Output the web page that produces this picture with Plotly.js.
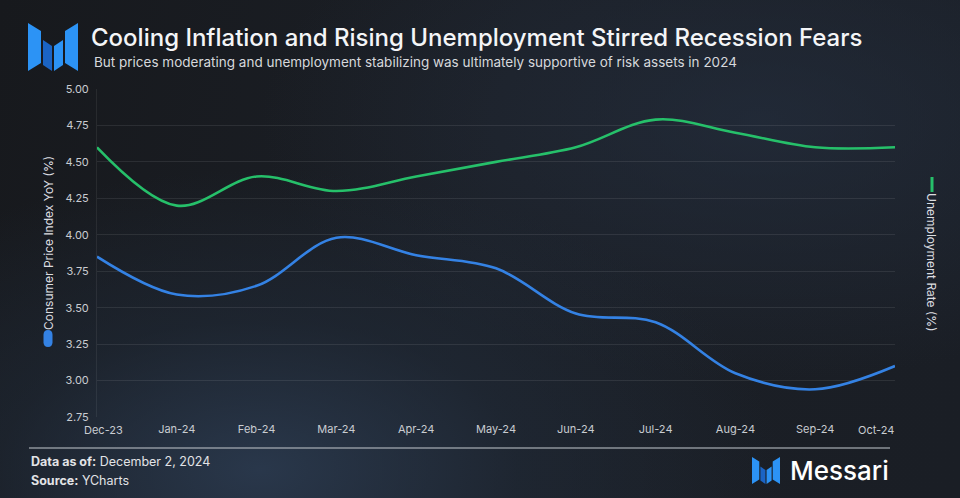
<!DOCTYPE html>
<html><head><meta charset="utf-8">
<script src="https://cdn.plot.ly/plotly-3.0.1.min.js"></script>
<style>
html,body{margin:0;padding:0;width:960px;height:498px;overflow:hidden;background:#181b20;}
#wrap{position:relative;width:960px;height:498px;
 background:
  radial-gradient(ellipse 520px 300px at 260px 470px, rgba(44,60,82,0.85) 0%, rgba(34,46,62,0.45) 50%, rgba(0,0,0,0) 100%),
  radial-gradient(ellipse 500px 260px at 760px 120px, rgba(36,46,62,0.7) 0%, rgba(0,0,0,0) 100%),
  linear-gradient(100deg, #17191d 0%, #1b1f26 50%, #1a1e25 100%);}
#chart{position:absolute;left:0;top:0;width:960px;height:498px;}
.logo{position:absolute;}
</style></head><body>
<div id="wrap">
<div id="chart"></div>
<svg class="logo" style="left:28px;top:23px" width="50" height="48" viewBox="0 0 50 48">
 <polygon points="0,0 13,8 13,40 0,48" fill="#2c93f5"/>
 <polygon points="15,17 24,23 24,48 15,42" fill="#1b64c4"/>
 <polygon points="26,23 35,17 35,42 26,48" fill="#2c93f5"/>
 <polygon points="37,8 50,0 50,48 37,40" fill="#2c93f5"/>
</svg>
<svg class="logo" style="left:752px;top:457px" width="28" height="27" viewBox="0 0 50 48">
 <polygon points="0,0 13,8 13,40 0,48" fill="#2c93f5"/>
 <polygon points="15,17 24,23 24,48 15,42" fill="#1b64c4"/>
 <polygon points="26,23 35,17 35,42 26,48" fill="#2c93f5"/>
 <polygon points="37,8 50,0 50,48 37,40" fill="#2c93f5"/>
</svg>
</div>
<script>
const months = ["Dec-23","Jan-24","Feb-24","Mar-24","Apr-24","May-24","Jun-24","Jul-24","Aug-24","Sep-24","Oct-24"];
const cpi = [3.85, 3.59, 3.65, 3.98, 3.86, 3.77, 3.46, 3.40, 3.05, 2.94, 3.10];
const unemployment = [4.60, 4.20, 4.40, 4.30, 4.40, 4.50, 4.60, 4.79, 4.70, 4.60, 4.60];
const yTicks = [2.75, 3.00, 3.25, 3.50, 3.75, 4.00, 4.25, 4.50, 4.75, 5.00];

const cpiName = "Consumer Price Index YoY (%)";
const unempName = "Unemployment Rate (%)";
const titleText = "Cooling Inflation and Rising Unemployment Stirred Recession Fears";
const subtitleText = "But prices moderating and unemployment stabilizing was ultimately supportive of risk assets in 2024";

const W = 960, H = 498, L = 97, R = 895, T = 89, B = 417;
const X = px => (px - L) / (R - L);
const Y = py => (B - py) / (B - T);

const FONT = "Inter, 'Liberation Sans', Arial, sans-serif";
const tickCol = "#c9ccd1";

const traces = [
 {x: months, y: unemployment, name: unempName, type: "scatter", mode: "lines",
  line: {color: "#26c06a", width: 2.6, shape: "spline", smoothing: 1}},
 {x: months, y: cpi, name: cpiName, type: "scatter", mode: "lines",
  line: {color: "#3482e4", width: 2.6, shape: "spline", smoothing: 1}}
];

const annotations = [
 {text: subtitleText, xref: "paper", yref: "paper", x: X(92), y: Y(62), xanchor: "left", yanchor: "middle",
  showarrow: false, font: {family: FONT, size: 13.5, color: "#d6d8dc"}},
 {text: cpiName, xref: "paper", yref: "paper", x: X(48), y: Y(243), xanchor: "center", yanchor: "middle",
  textangle: -90, showarrow: false, font: {family: FONT, size: 12, color: "#dcdde0"}},
 {text: unempName, xref: "paper", yref: "paper", x: X(932), y: Y(262), xanchor: "center", yanchor: "middle",
  textangle: 90, showarrow: false, font: {family: FONT, size: 12, color: "#dcdde0"}},
 {text: months[0], xref: "x", yref: "paper", x: months[0], y: 0, xshift: 6, yshift: -4,
  xanchor: "center", yanchor: "top", showarrow: false, font: {family: FONT, size: 11, color: tickCol}},
 {text: months[months.length-1], xref: "x", yref: "paper", x: months[months.length-1], y: 0, xshift: -19, yshift: -4,
  xanchor: "center", yanchor: "top", showarrow: false, font: {family: FONT, size: 11, color: tickCol}},
 {text: "<b>Data as of:</b> December 2, 2024", xref: "paper", yref: "paper", x: X(29), y: Y(461),
  xanchor: "left", yanchor: "middle", showarrow: false, font: {family: FONT, size: 12.5, color: "#e2e3e6"}},
 {text: "<b>Source:</b> YCharts", xref: "paper", yref: "paper", x: X(29), y: Y(480),
  xanchor: "left", yanchor: "middle", showarrow: false, font: {family: FONT, size: 12.5, color: "#e2e3e6"}},
 {text: "Messari", xref: "paper", yref: "paper", x: X(788), y: Y(470),
  xanchor: "left", yanchor: "middle", showarrow: false, font: {family: FONT, size: 26, color: "#ffffff", weight: 500}}
];

const px0 = X(43.5), px1 = X(52.5), py0 = Y(330), py1 = Y(347);
const ry = (py0 - py1) * 0.28;
const pill = `M ${px0},${py0 - ry} Q ${px0},${py0} ${(px0+px1)/2},${py0} Q ${px1},${py0} ${px1},${py0 - ry} L ${px1},${py1 + ry} Q ${px1},${py1} ${(px0+px1)/2},${py1} Q ${px0},${py1} ${px0},${py1 + ry} Z`;

const shapes = [
 {type: "path", xref: "paper", yref: "paper", path: pill, fillcolor: "#3482e4", line: {width: 0}},
 {type: "line", xref: "paper", yref: "paper", x0: X(932), x1: X(932), y0: Y(177), y1: Y(192),
  line: {color: "#26c06a", width: 3}},
 {type: "line", xref: "paper", yref: "paper", x0: X(29), x1: X(890), y0: Y(448), y1: Y(448),
  line: {color: "rgba(190,194,200,0.7)", width: 1.5}}
];

const layout = {
 width: W, height: H,
 margin: {l: L, r: W - R, t: T, b: H - B, pad: 0},
 paper_bgcolor: "rgba(0,0,0,0)", plot_bgcolor: "rgba(0,0,0,0)",
 showlegend: false,
 font: {family: FONT, color: tickCol},
 title: {text: titleText, x: 91 / W, xanchor: "left", xref: "container",
  y: 1 - 38 / H, yref: "container", yanchor: "middle",
  font: {family: FONT, size: 24, color: "#f4f5f7", weight: 500}},
 xaxis: {type: "category", range: [0, months.length - 1], tickvals: months.slice(1, -1),
  showgrid: false, zeroline: false, showline: false, ticks: "", ticklabelstandoff: 4,
  tickfont: {family: FONT, size: 11, color: tickCol}, fixedrange: true},
 yaxis: {range: [2.75, 5.0], tickvals: yTicks, tickformat: ".2f",
  showgrid: true, gridcolor: "rgba(255,255,255,0.085)", gridwidth: 1,
  zeroline: false, showline: true, linecolor: "rgba(255,255,255,0.07)", linewidth: 1,
  ticks: "", ticklabelstandoff: 5, tickfont: {family: FONT, size: 11, color: tickCol}, fixedrange: true},
 annotations: annotations,
 shapes: shapes
};

Plotly.newPlot("chart", traces, layout, {displayModeBar: false, staticPlot: true});
</script>
</body></html>
